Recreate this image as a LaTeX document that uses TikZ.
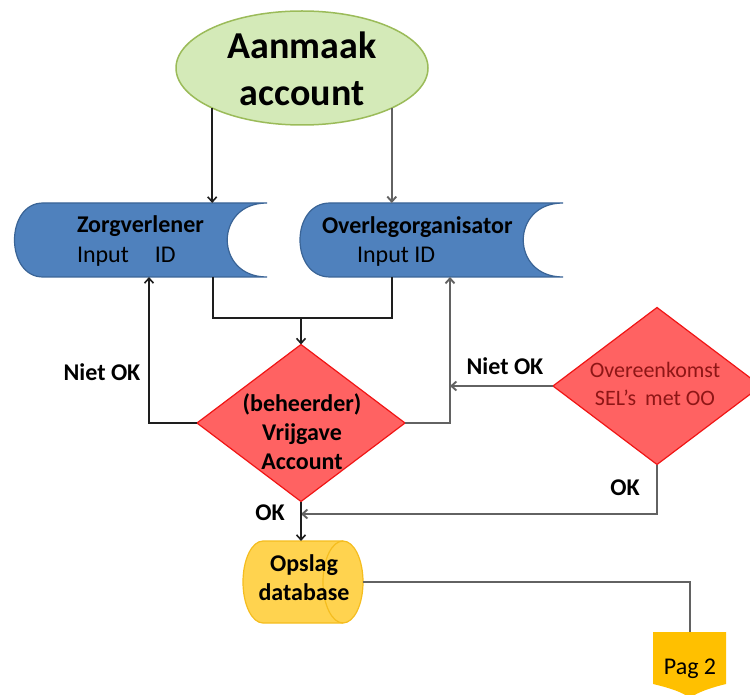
\documentclass[tikz,border=0pt]{standalone}
\usepackage{fontspec}
\setmainfont{Carlito}
\usetikzlibrary{shapes.geometric,arrows.meta}
\definecolor{greenfill}{HTML}{D4EAB8}
\definecolor{greenline}{HTML}{9BBB59}
\definecolor{bluefill}{HTML}{4F81BD}
\definecolor{blueline}{HTML}{3A6496}
\definecolor{redfill}{HTML}{FF6262}
\definecolor{redline}{HTML}{F01515}
\definecolor{darkred}{HTML}{8E1616}
\definecolor{goldfill}{HTML}{FFD34F}
\definecolor{goldline}{HTML}{F5BD1F}
\definecolor{orangefill}{HTML}{FFC000}
\definecolor{connblack}{HTML}{1E1E1E}
\definecolor{conngray}{HTML}{626262}
\begin{document}
\begin{tikzpicture}[x=1pt,y=-1pt,
  conn/.style={draw=connblack, line width=1.6pt},
  conng/.style={draw=conngray, line width=1.9pt},
  tip/.style={-{Straight Barb[length=5pt,width=9pt]}},
  anchorbox/.style={draw=none, inner sep=0, outer sep=0},
  bold24/.style={font=\bfseries\fontsize{24}{29}\selectfont, inner sep=0, outer sep=0},
  reg24/.style={font=\fontsize{24}{29}\selectfont, inner sep=0, outer sep=0},
  bluebox/.style={fill=bluefill, draw=blueline, line width=1.2pt},
  decision/.style={diamond, draw=redline, fill=redfill, line width=1.2pt,
    minimum width=208pt, minimum height=157pt, inner sep=0, outer sep=0}]
\useasboundingbox (0,0) rectangle (750,695);

% start ellipse
\node[ellipse, draw=greenline, fill=greenfill, line width=1.5pt,
  minimum width=252pt, minimum height=114pt, inner sep=0, outer sep=0] (start) at (302,68) {};
\node[font=\bfseries\fontsize{38}{47}\selectfont, align=center, inner sep=0] (startT) at (302,69) {Aanmaak\\account};

% Zorgverlener (stored data)
\path[bluebox] (43,203) -- (267,203) .. controls (214,203) and (214,277) .. (267,277)
  -- (43,277) .. controls (5,277) and (5,203) .. (43,203) -- cycle;
\node[anchorbox, minimum width=252pt, minimum height=74pt] (zv) at (141,240) {};
\node[bold24, anchor=base west] (zvT) at (77,233) {Zorgverlener};
\node[reg24, anchor=base west] (zvI) at (77,262) {Input\hspace{26pt}ID};

% Overlegorganisator (stored data)
\path[bluebox] (330,203) -- (563,203) .. controls (510,203) and (510,277) .. (563,277)
  -- (330,277) .. controls (290,277) and (290,203) .. (330,203) -- cycle;
\node[anchorbox, minimum width=263pt, minimum height=74pt] (os) at (431,240) {};
\node[bold24, anchor=base west] (osT) at (322,234) {Overlegorganisator};
\node[reg24, anchor=base west] (osI) at (357,262) {Input ID};

% decisions
\node[decision] (vr) at (301,423) {};
\node[bold24, align=center] (vrT) at (302,432) {(beheerder)\\Vrijgave\\Account};
\node[decision] (ov) at (657,386) {};
\node[font=\fontsize{22}{28}\selectfont, text=darkred, align=center, inner sep=0] (ovT) at (655,384)
  {Overeenkomst\\SEL’s\hspace{9pt}met OO};

% Opslag database (horizontal cylinder)
\path[fill=goldfill, draw=goldline, line width=1.2pt]
  (263,541) -- (343,541) arc[start angle=90, end angle=-90, x radius=20pt, y radius=41pt]
  -- (263,623) arc[start angle=270, end angle=90, x radius=20pt, y radius=41pt] -- cycle;
\draw[goldline, line width=1.2pt] (343,541) arc[start angle=90, end angle=270, x radius=20pt, y radius=41pt];
\node[anchorbox, minimum width=120pt, minimum height=82pt] (db) at (303,582) {};
\node[bold24, align=center] (dbT) at (304,578) {Opslag\\database};

% Pag 2 off-page connector
\path[fill=orangefill] (653,632) -- (726,632) -- (726,684) .. controls (710,688) and (698,692) .. (690,698)
  .. controls (682,692) and (670,688) .. (653,684) -- cycle;
\node[anchorbox, minimum width=73pt, minimum height=56pt] (pg) at (690,660) {};
\node[reg24, anchor=base] (pgT) at (690,674) {Pag 2};

% helper coordinates
\coordinate (jL) at (213,318);
\coordinate (jR) at (392,318);
\coordinate (j) at (301,318);
\coordinate (xl) at (149,0);
\coordinate (xr) at (450,0);
\coordinate (okj) at (301,514);

% connectors
\draw[conn, tip] (start.204) -- (start.204 |- zv.north);
\draw[conng, tip] (start.336) -- (start.336 |- os.north);
\draw[conn] (zv.south -| jL) -- (jL) -- (jR) -- (os.south -| jR);
\draw[conn, tip] (j) -- (vr.north);
\draw[conn, tip] (vr.west) -| (zv.south -| xl);
\draw[conng, tip] (vr.east) -| (os.south -| xr);
\draw[conng, tip] (ov.west) -- (ov.west -| xr);
\draw[conng, tip] (ov.south) |- (okj);
\draw[conn, tip] (vr.south) -- (vr.south |- db.north);
\draw[conng] (db.east) -| (pg.north);

% labels
\node[bold24] (lNiet1) at (102,372) {Niet OK};
\node[bold24] (lNiet2) at (505,366) {Niet OK};
\node[bold24] (lOK1) at (625,488) {OK};
\node[bold24] (lOK2) at (270,513) {OK};
\end{tikzpicture}
\end{document}
